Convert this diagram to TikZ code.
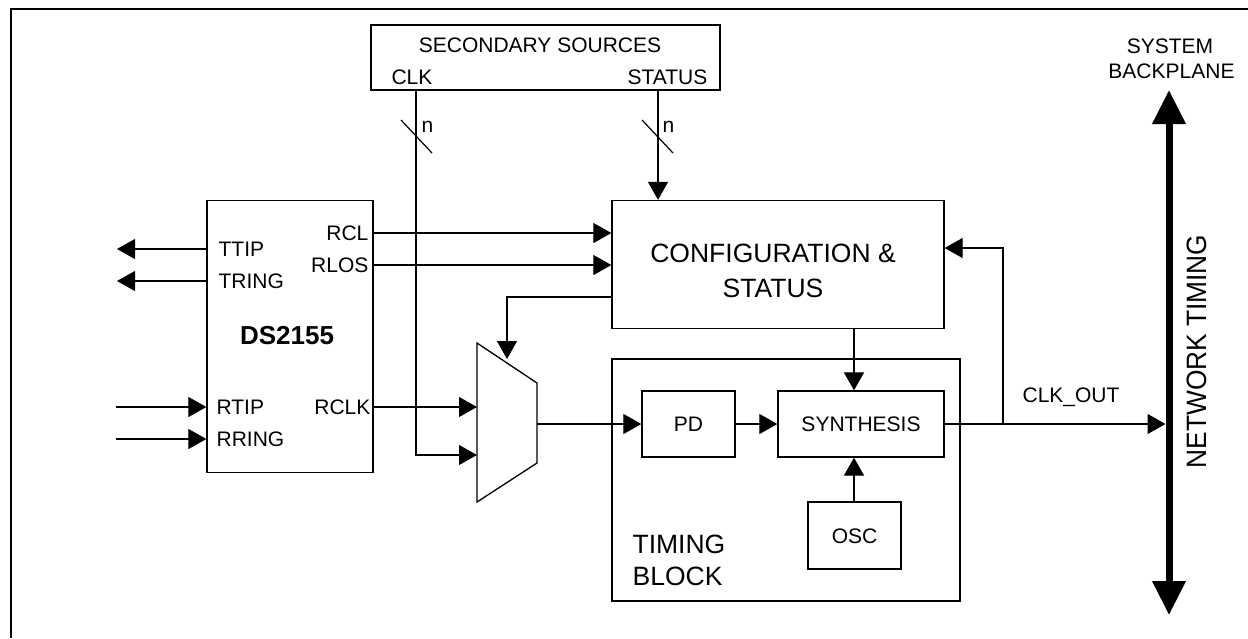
\documentclass[tikz,border=0pt]{standalone}
\usepackage{fontspec}
\setmainfont{Liberation Sans}
\usetikzlibrary{arrows.meta}
\begin{document}
\begin{tikzpicture}[x=1pt,y=-1pt,
 line width=1.2pt,
 box/.style={draw, line width=1.3pt, rectangle, inner sep=0pt},
 sm/.style={font=\fontsize{21}{25}\selectfont, inner sep=0pt, text height=15pt, text depth=0pt},
 bg/.style={font=\fontsize{26.5}{30}\selectfont, inner sep=0pt, text height=19pt, text depth=0pt},
 nlab/.style={font=\fontsize{21}{25}\selectfont, inner sep=0pt, anchor=base west},
 arr/.style={-{Triangle[length=18pt,width=20pt]}},
 bus/.style={line width=7pt, {Triangle[length=34pt,width=32pt]}-{Triangle[length=34pt,width=32pt]}}
]
\fill[white] (0,0) rectangle (1248,638);
\useasboundingbox (0,0) rectangle (1248,638);
% frame
\draw[line width=1.3pt] (11,638) -- (11,9) -- (1248,9);

% secondary sources
\node[box, minimum width=349pt, minimum height=65pt] (sec) at (545.5,57.5) {};
\node[sm] (sectitle) at (540,45) {SECONDARY SOURCES};
\node[sm] (clklbl) at (412,77) {CLK};
\node[sm] (statlbl) at (667.5,77) {STATUS};

% DS2155
\node[box, minimum width=166pt, minimum height=272pt] (ds) at (290,336.5) {};
\node[font=\fontsize{26}{30}\selectfont\bfseries, inner sep=0pt, text height=18.6pt, text depth=0pt] (dsname) at (287,335) {DS2155};
\node[sm, anchor=west] (ttip) at (218,249) {TTIP};
\node[sm, anchor=west] (tring) at (218,281) {TRING};
\node[sm, anchor=west] (rtip) at (216,407) {RTIP};
\node[sm, anchor=west] (rring) at (216,439) {RRING};
\node[sm, anchor=east] (rcl) at (369,233) {RCL};
\node[sm, anchor=east] (rlos) at (369,265) {RLOS};
\node[sm, anchor=east] (rclk) at (371,407) {RCLK};

% configuration
\node[box, minimum width=332pt, minimum height=128pt] (cfg) at (778,264.5) {};
\node[bg] (cfg1) at (773,253) {CONFIGURATION \&};
\node[bg] (cfg2) at (773,288) {STATUS};

% timing block
\node[box, minimum width=348pt, minimum height=242pt] (tb) at (786,480) {};
\node[bg, anchor=west] (tb1) at (632,543.5) {TIMING};
\node[bg, anchor=west] (tb2) at (632,575.5) {BLOCK};
\node[box, sm, minimum width=93pt, minimum height=66pt] (pd) at (688.5,424) {PD};
\node[box, sm, minimum width=166pt, minimum height=66pt] (syn) at (861,424) {SYNTHESIS};
\node[box, sm, minimum width=93pt, minimum height=67pt] (osc) at (854.5,535.5) {OSC};

% mux
\draw[line width=1.3pt] (477,343) coordinate (mtl) -- (537,383) coordinate (mtr)
  -- (537,463) coordinate (mbr) -- (477,502) coordinate (mbl) -- cycle;
\coordinate (mout) at (537,424);
\coordinate (min1) at (477,407);
\coordinate (min2) at (477,455);
\coordinate (msel) at (507,359);

% line interface arrows
\coordinate (ttipend) at (117,249);
\coordinate (tringend) at (117,281);
\coordinate (rtipstart) at (116,407);
\coordinate (rringstart) at (116,439);
\draw[arr] (ds.west |- ttipend) -- (ttipend);
\draw[arr] (ds.west |- tringend) -- (tringend);
\draw[arr] (rtipstart) -- (rtipstart -| ds.west);
\draw[arr] (rringstart) -- (rringstart -| ds.west);

% RCL / RLOS / RCLK
\draw[arr] (ds.east |- rcl.east) -- (cfg.west |- rcl.east);
\draw[arr] (ds.east |- rlos.east) -- (cfg.west |- rlos.east);
\draw[arr] (ds.east |- rclk.east) -- (min1);

% secondary sources lines
\coordinate (clktop) at (416,90);
\coordinate (stattop) at (658,90);
\draw[arr] (clktop) |- (min2);
\draw[arr] (stattop) -- (stattop |- cfg.north);
\draw (401,120) -- (432,153);
\draw (642,120) -- (673,153);
\node[nlab] (n1) at (421,132) {n};
\node[nlab] (n2) at (662,132) {n};

% select
\coordinate (selx) at (507,297);
\draw[arr] (cfg.west |- selx) -| (msel);

% mux to PD, PD to synthesis
\draw[arr] (mout) -- (pd.west);
\draw[arr] (pd.east) -- (syn.west);

% cfg to synthesis, osc to synthesis
\coordinate (vx) at (854,0);
\draw[arr] (cfg.south -| vx) -- (syn.north -| vx);
\draw[arr] (osc.north -| vx) -- (syn.south -| vx);

% bus
\coordinate (bustop) at (1169,90);
\coordinate (busbot) at (1169,615);
\draw[arr, shorten >=3.5pt] (syn.east) -- (syn.east -| bustop);
\draw[bus] (bustop) -- (busbot);

% feedback
\coordinate (fbx) at (1003,0);
\coordinate (fby) at (0,248);
\draw[arr] (syn.east -| fbx) |- (cfg.east |- fby);

% labels
\node[sm, anchor=west] (clkout) at (1022,395) {CLK\_OUT};
\node[sm] (sys1) at (1170,45.5) {SYSTEM};
\node[sm] (sys2) at (1171.5,70.5) {BACKPLANE};
\node[font=\fontsize{28}{32}\selectfont, inner sep=0pt, text height=20pt, text depth=0pt, rotate=90] (net) at (1196.5,351.5) {\scalebox{0.94}[1]{NETWORK TIMING}};
\end{tikzpicture}
\end{document}
